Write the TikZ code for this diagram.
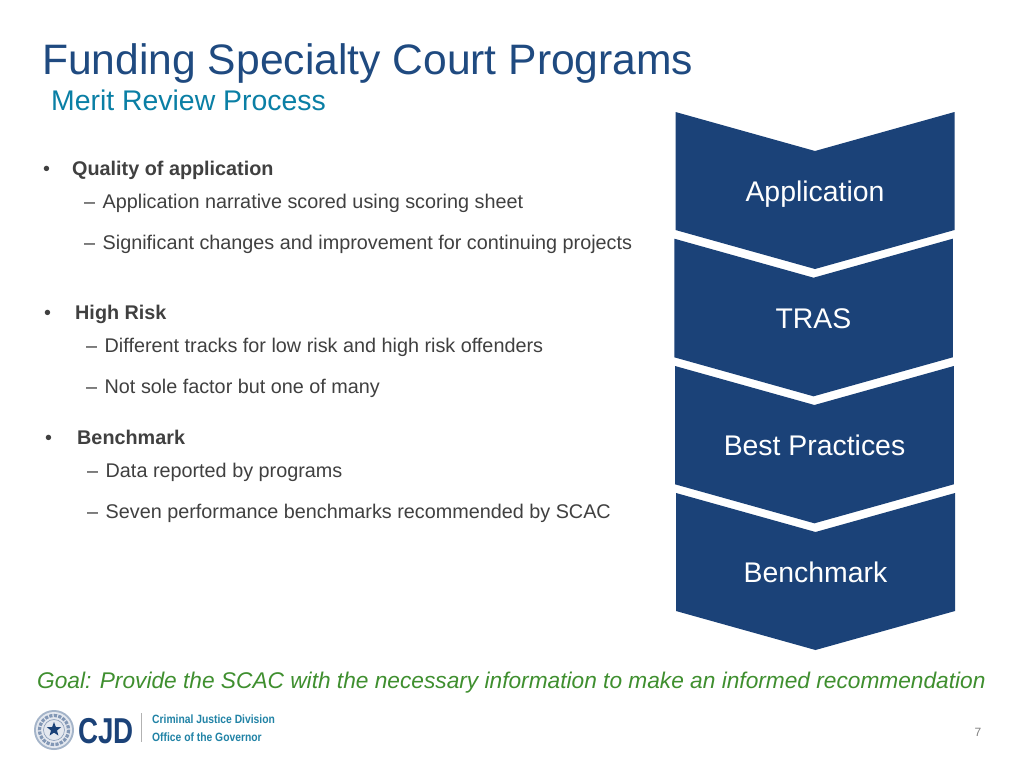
\documentclass[tikz,border=0pt]{standalone}
\usepackage{fontspec}
\usepackage{graphicx}
\setmainfont{Liberation Sans}
\usetikzlibrary{shapes.geometric}
\definecolor{navy}{HTML}{1B4278}
\definecolor{titleblue}{HTML}{1F4A80}
\definecolor{subblue}{HTML}{0A7FA5}
\definecolor{goalgreen}{HTML}{3F8F2F}
\definecolor{bodygrey}{HTML}{404040}
\definecolor{logoteal}{HTML}{2183A6}
\tikzset{
  txt/.style={anchor=base west,inner sep=0pt,text=bodygrey,font=\fontsize{19.8}{24}\selectfont},
  head/.style={txt,font=\fontsize{19.8}{24}\selectfont\bfseries},
  chevlabel/.style={anchor=base,inner sep=0pt,text=white,font=\fontsize{28.4}{34}\selectfont},
  lognote/.style={anchor=base west,inner sep=0pt,align=left,text=logoteal,font=\fontsize{12}{17.5}\selectfont\bfseries}
}
\newcommand{\dashitem}{–\kern2pt\ }
% x y corner, then width and height of the side
\newcommand{\chevshape}[4]{\fill[navy] (#1,#2) -- ++(#3/2,39) -- (#1+#3,#2) -- (#1+#3,#2+#4) -- ++(-#3/2,39) -- (#1,#2+#4) -- cycle;}
\begin{document}
\begin{tikzpicture}[x=0.75pt,y=-0.75pt,every node/.append style={scale=0.75}]
\useasboundingbox (0,0) rectangle (1024,768);
\fill[white] (0,0) rectangle (1024,768);
% headings
\node[anchor=base west,inner sep=0pt,text=titleblue,font=\fontsize{42.6}{50}\selectfont] (title) at (42,74.5) {Funding Specialty Court Programs};
\node[anchor=base west,inner sep=0pt,text=subblue,font=\fontsize{28.4}{34}\selectfont] (sub) at (51,110) {Merit Review Process};
% bullets
\node[txt] (b1) at (43,175) {•};
\node[head] (h1) at (72,175) {Quality of application};
\node[txt] (s1a) at (84,208) {\dashitem Application narrative scored using scoring sheet};
\node[txt] (s1b) at (84,249) {\dashitem Significant changes and improvement for continuing projects};
\node[txt] (b2) at (44,319) {•};
\node[head] (h2) at (75,319) {High Risk};
\node[txt] (s2a) at (86,352) {\dashitem Different tracks for low risk and high risk offenders};
\node[txt] (s2b) at (86,393) {\dashitem Not sole factor but one of many};
\node[txt] (b3) at (45,444) {•};
\node[head] (h3) at (77,444) {Benchmark};
\node[txt] (s3a) at (87,477) {\dashitem Data reported by programs};
\node[txt] (s3b) at (87,518) {\dashitem Seven performance benchmarks recommended by SCAC};
% chevrons
\chevshape{675.5}{112}{279}{118}
\chevshape{674.3}{238.7}{278.5}{118.6}
\chevshape{675}{366}{278.8}{118.3}
\chevshape{676}{493}{279}{118}
\node[chevlabel] (app) at (815,201.5) {Application};
\node[chevlabel] (tras) at (813.5,328.5) {TRAS};
\node[chevlabel] (best) at (814.5,455.5) {Best Practices};
\node[chevlabel] (bench) at (815.5,582.5) {Benchmark};
% goal
\node[anchor=base west,inner sep=0pt,text=goalgreen,font=\fontsize{22.7}{27}\selectfont\itshape] (goal) at (37,688) {Goal: Provide the SCAC with the necessary information to make an informed recommendation};
% logo
\fill[white!60!navy] (54,730) circle (20);
\fill[white!88!navy] (54,730) circle (18);
\draw[navy!55,densely dotted,line width=2.4pt] (54,730) circle (14.5);
\draw[navy!50,line width=0.5pt] (54,730) circle (10.5);
\node[star,star points=5,star point ratio=2.4,fill=navy,inner sep=0pt,minimum size=15pt] (seal) at (54,729.5) {};
\node[anchor=base west,inner sep=0pt,text=navy,font=\fontsize{36}{40}\selectfont\bfseries,xscale=0.77] (cjd) at (78,743) {CJD};
\draw[gray!60,line width=0.7pt] (141,713) -- (141,742);
\node[lognote,xscale=0.86] (cjdnote) at (152,741) {Criminal Justice Division\\Office of the Governor};
\node[anchor=base,inner sep=0pt,text=gray,font=\fontsize{12}{14}\selectfont] (page) at (978,736) {7};
\end{tikzpicture}
\end{document}
